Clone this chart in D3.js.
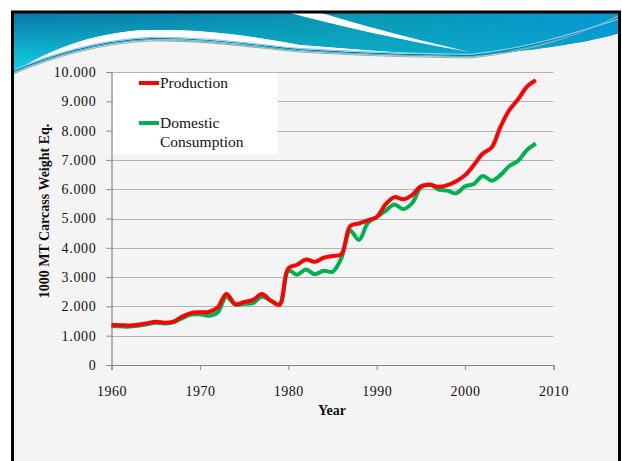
<!DOCTYPE html>
<html>
<head>
<meta charset="utf-8">
<script src="https://cdn.jsdelivr.net/npm/d3@7"></script>
<style>
  html, body { margin: 0; padding: 0; background: #ffffff; }
  svg { display: block; }
  text { font-family: "Liberation Serif", "DejaVu Serif", serif; }
</style>
</head>
<body>
<svg id="chart" width="622" height="461"></svg>
<script>
const years = d3.range(1960, 2009);
const production = [
  1365, 1360, 1345, 1370, 1420, 1480, 1445, 1480, 1650, 1770,
  1800, 1810, 1960, 2420, 2080, 2150, 2220, 2420, 2200, 2060,
  3300, 3420, 3600, 3520, 3660, 3720, 3780, 4740, 4830, 4940,
  5050, 5480, 5730, 5660, 5800, 6100, 6150, 6080, 6140, 6270,
  6480, 6830, 7220, 7420, 8130, 8700, 9070, 9500, 9720
];
const consumption = [
  1330, 1320, 1310, 1340, 1390, 1440, 1420, 1460, 1600, 1720,
  1730, 1680, 1790, 2330, 2060, 2090, 2110, 2340, 2200, 2060,
  3220, 3080, 3260, 3100, 3220, 3180, 3650, 4580, 4270, 4850,
  5050, 5260, 5480, 5320, 5520, 6060, 6160, 5990, 5950, 5860,
  6100, 6180, 6450, 6290, 6480, 6790, 6970, 7340, 7560
];
const xTicks = [1960, 1970, 1980, 1990, 2000, 2010];
const yTicks = [0, 1000, 2000, 3000, 4000, 5000, 6000, 7000, 8000, 9000, 10000];
const seriesNames = ["Production", "Domestic", "Consumption"];
const xTitle = "Year";
const yTitle = "1000 MT Carcass Weight Eq.";

const svg = d3.select("#chart");
const defs = svg.append("defs");

// slide background + frame
svg.append("rect").attr("x", 12).attr("y", 11).attr("width", 608).attr("height", 460)
  .attr("fill", "#f4f4f4");

// header decoration
const g1 = defs.append("linearGradient").attr("id", "hdr").attr("x1", 0).attr("y1", 0).attr("x2", 0).attr("y2", 1);
g1.append("stop").attr("offset", "0%").attr("stop-color", "#0877a6");
g1.append("stop").attr("offset", "100%").attr("stop-color", "#12d6e8");
const g2 = defs.append("linearGradient").attr("id", "hdr2").attr("x1", 0).attr("y1", 0).attr("x2", 1).attr("y2", 0);
g2.append("stop").attr("offset", "0%").attr("stop-color", "#0ba3b8").attr("stop-opacity", 0);
g2.append("stop").attr("offset", "60%").attr("stop-color", "#0aa6bb").attr("stop-opacity", 0.7);
g2.append("stop").attr("offset", "100%").attr("stop-color", "#079ad8").attr("stop-opacity", 0.9);

const hdrPath = "M13,13 L620,13 L620,33 C590,42 540,50 470,56 C420,54 360,50 300,45 C240,34 200,29 150,30 C100,31 50,48 13,73 Z";
svg.append("path").attr("d", hdrPath).attr("fill", "url(#hdr)");
svg.append("path").attr("d", hdrPath).attr("fill", "url(#hdr2)");
// white swoosh
svg.append("path").attr("d", "M290,13 C340,26 400,40 470,52 C410,38 360,25 322,13 Z").attr("fill", "#ffffff");
// white lens under the teal
svg.append("path")
  .attr("d", "M13,73 C50,48 100,31 150,30 C200,29 240,34 300,45 C360,50 420,54 470,56 L470,58 C400,57 360,56 300,52 C240,46 200,40 150,41 C100,43 50,58 13,73 Z")
  .attr("fill", "#ffffff");
// thin lines
const lineCols = ["#a8a8a8", "#2fc7a8", "#1d6fc0", "#86cdea"];
lineCols.forEach((c, i) => {
  const o = i * 1.2;
  svg.append("path")
    .attr("d", `M13,${74 - o} C50,${58 - o} 100,${43 - o} 150,${41 - o} C200,${40 - o} 240,${46 - o} 300,${52 - o} C360,${56 - o} 400,${57 - o} 470,${58 - o} C530,${52 - o} 580,${35 - o} 620,${15 + o}`)
    .attr("fill", "none").attr("stroke", c).attr("stroke-width", 1.1);
});

// frame
svg.append("path").attr("d", "M12.5,470 L12.5,12 L619.5,12 L619.5,470")
  .attr("fill", "none").attr("stroke", "#000").attr("stroke-width", 3);

// scales
const x = d3.scaleLinear().domain([1960, 2010]).range([111.5, 553.5]);
const y = d3.scaleLinear().domain([0, 10000]).range([365, 72]);
const loc = d3.formatLocale({ decimal: ",", thousands: ".", grouping: [3], currency: ["", ""] });
const fmt = loc.format(",d");

// gridlines
svg.append("g").selectAll("line").data(yTicks.filter(d => d > 0)).join("line")
  .attr("x1", x(1960)).attr("x2", x(2010))
  .attr("y1", d => Math.round(y(d)) + 0.5).attr("y2", d => Math.round(y(d)) + 0.5)
  .attr("stroke", "#b3b3b3").attr("stroke-width", 1.2);

// y axis
const yAxis = svg.append("g").attr("transform", `translate(${x(1960)},0)`)
  .call(d3.axisLeft(y).tickValues(yTicks).tickFormat(fmt).tickSize(5).tickPadding(10));
yAxis.select(".domain").attr("stroke", "#888").attr("stroke-width", 1.2);
yAxis.selectAll(".tick line").attr("stroke", "#888");
yAxis.selectAll(".tick text").attr("font-family", "Liberation Serif, serif")
  .attr("font-size", 14).attr("letter-spacing", 0.7).attr("fill", "#111");

// x axis
const xAxis = svg.append("g").attr("transform", `translate(0,${y(0)})`)
  .call(d3.axisBottom(x).tickValues(xTicks).tickFormat(d3.format("d")).tickSize(5).tickPadding(16));
xAxis.select(".domain").attr("stroke", "#888").attr("stroke-width", 1.2);
xAxis.selectAll(".tick line").attr("stroke", "#888");
xAxis.selectAll(".tick text").attr("font-family", "Liberation Serif, serif")
  .attr("font-size", 14).attr("letter-spacing", 0.5).attr("fill", "#111");

// axis titles
svg.append("text").attr("x", 332).attr("y", 415).attr("text-anchor", "middle")
  .attr("font-size", 14).attr("font-weight", "bold").attr("fill", "#111").text(xTitle);
svg.append("text").attr("transform", "translate(49,211) rotate(-90)").attr("text-anchor", "middle")
  .attr("font-size", 14).attr("font-weight", "bold").attr("fill", "#111").text(yTitle);

// lines
const line = d3.line().x((d, i) => x(years[i])).y(d => y(d)).curve(d3.curveCatmullRom.alpha(0.5));
svg.append("path").datum(consumption).attr("d", line)
  .attr("fill", "none").attr("stroke", "#00b050").attr("stroke-width", 4).attr("stroke-linejoin", "round");
svg.append("path").datum(production).attr("d", line)
  .attr("fill", "none").attr("stroke", "#ff0000").attr("stroke-width", 4).attr("stroke-linejoin", "round");

// legend
svg.append("rect").attr("x", 113).attr("y", 73).attr("width", 165).attr("height", 81).attr("fill", "#ffffff");
const leg = [
  { color: "#ff0000", lines: [seriesNames[0]], y: 83 },
  { color: "#00b050", lines: [seriesNames[1], seriesNames[2]], y: 123 }
];
leg.forEach(l => {
  svg.append("line").attr("x1", 139).attr("x2", 159).attr("y1", l.y).attr("y2", l.y)
    .attr("stroke", l.color).attr("stroke-width", 4);
  l.lines.forEach((t, i) => {
    svg.append("text").attr("x", 160).attr("y", l.y + 5 + i * 19).attr("font-size", 15.5)
      .attr("fill", "#111").text(t);
  });
});
</script>
</body>
</html>
